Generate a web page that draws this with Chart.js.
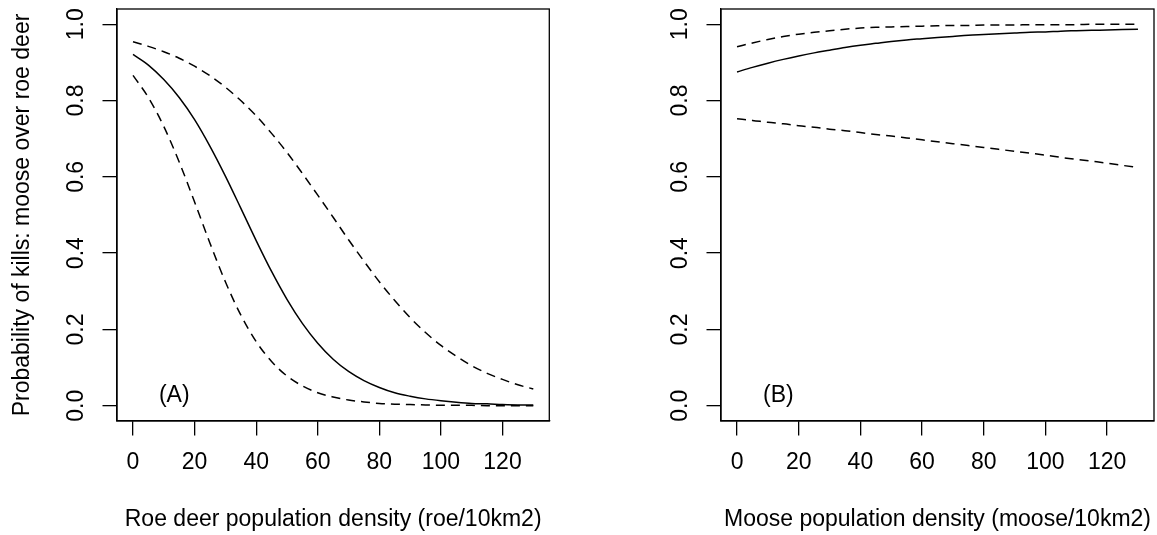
<!DOCTYPE html>
<html>
<head>
<meta charset="utf-8">
<script src="https://cdn.jsdelivr.net/npm/chart.js@4.4.1/dist/chart.umd.min.js"></script>
<style>
  html, body { margin: 0; padding: 0; background: #fff; }
  .panel { position: absolute; top: 0; height: 535px; }
  #wrapA { left: 0; width: 580px; }
  #wrapB { left: 604px; width: 553px; }
</style>
</head>
<body>
<div class="panel" id="wrapA"><canvas id="chartA" width="580" height="535"></canvas></div>
<div class="panel" id="wrapB"><canvas id="chartB" width="553" height="535"></canvas></div>
<script>
// densities (x) shared by both panels
const density = [0, 5, 10, 15, 20, 25, 30, 35, 40, 45, 50, 55, 60, 65, 70, 75, 80, 85, 90, 95, 100, 105, 110, 115, 120, 125, 130]

// panel A: roe deer density
const roeFit   = [0.921, 0.893, 0.855, 0.808, 0.750, 0.680, 0.602, 0.518, 0.433, 0.352, 0.279, 0.216, 0.164, 0.122, 0.090, 0.066, 0.048, 0.034, 0.025, 0.018, 0.013, 0.009, 0.006, 0.005, 0.003, 0.002, 0.002]
const roeUpper = [0.954, 0.942, 0.928, 0.911, 0.890, 0.865, 0.835, 0.800, 0.760, 0.714, 0.664, 0.609, 0.552, 0.494, 0.435, 0.379, 0.325, 0.276, 0.231, 0.192, 0.158, 0.130, 0.105, 0.085, 0.069, 0.055, 0.044]
const roeLower = [0.866, 0.808, 0.732, 0.639, 0.534, 0.426, 0.325, 0.238, 0.168, 0.116, 0.078, 0.052, 0.034, 0.023, 0.015, 0.010, 0.006, 0.004, 0.003, 0.002, 0.001, 0.001, 0.001, 0.000, 0.000, 0.000, 0.000]

// panel B: moose density
const mooseFit   = [0.875, 0.887, 0.898, 0.908, 0.917, 0.925, 0.932, 0.939, 0.945, 0.950, 0.955, 0.959, 0.962, 0.965, 0.968, 0.971, 0.973, 0.975, 0.977, 0.979, 0.980, 0.982, 0.983, 0.984, 0.985, 0.986, 0.987]
const mooseUpper = [0.941, 0.951, 0.960, 0.968, 0.974, 0.979, 0.983, 0.987, 0.990, 0.992, 0.993, 0.994, 0.995, 0.996, 0.997, 0.997, 0.998, 0.998, 0.998, 0.999, 0.999, 0.999, 0.999, 1.000, 1.000, 1.000, 1.000]
const mooseLower = [0.752, 0.748, 0.743, 0.739, 0.734, 0.730, 0.725, 0.721, 0.716, 0.711, 0.707, 0.702, 0.697, 0.692, 0.687, 0.682, 0.677, 0.672, 0.667, 0.662, 0.657, 0.651, 0.646, 0.641, 0.636, 0.630, 0.625]

const xTicks = [0, 20, 40, 60, 80, 100, 120]
const yTicks = [0, 0.2, 0.4, 0.6, 0.8, 1.0]

const FONT = "'Liberation Sans', Arial, Helvetica, sans-serif"
const FS = 23

function pairs(ys) {
    return density.map((x, i) => ({x: x, y: ys[i]}))
}

function lineSet(ys, dashed) {
    return {
        data: pairs(ys),
        borderColor: '#000',
        borderWidth: 1.5,
        borderDash: dashed ? [9, 6] : [],
        pointRadius: 0,
        fill: false,
        cubicInterpolationMode: 'monotone'
    }
}

// R style closed box + panel letter
const boxPlugin = {
    id: 'rbox',
    afterDraw(chart, args, opts) {
        const ctx = chart.ctx
        const a = chart.chartArea
        ctx.save()
        ctx.strokeStyle = '#000'
        ctx.lineWidth = 1.3
        ctx.strokeRect(a.left, a.top, a.right - a.left, a.bottom - a.top)
        ctx.fillStyle = '#000'
        ctx.font = FS + 'px ' + FONT
        ctx.textAlign = 'center'
        ctx.textBaseline = 'middle'
        ctx.fillText(opts.label, chart.scales.x.getPixelForValue(13.4), chart.scales.y.getPixelForValue(0.026))
        ctx.restore()
    }
}

function makeChart(id, sets, xTitle, yTitle, padRight, letter) {
    return new Chart(document.getElementById(id), {
        type: 'line',
        data: { datasets: sets },
        plugins: [boxPlugin],
        options: {
            responsive: false,
            animation: false,
            layout: { padding: { left: 0, top: 9, right: padRight, bottom: 0 } },
            plugins: {
                legend: { display: false },
                tooltip: { enabled: false },
                rbox: { label: letter }
            },
            scales: {
                x: {
                    type: 'linear',
                    min: -5.2,
                    max: 135.2,
                    afterBuildTicks: (s) => { s.ticks = xTicks.map(v => ({value: v})) },
                    afterFit: (s) => { s.height = 114; s.paddingLeft = 0; s.paddingRight = 0 },
                    ticks: {
                        color: '#000',
                        padding: 13.7,
                        maxRotation: 0,
                        autoSkip: false,
                        font: { family: FONT, size: FS },
                        callback: (v) => String(v)
                    },
                    grid: { drawOnChartArea: false, drawTicks: true, tickLength: 14.5, color: '#000', lineWidth: 1.3 },
                    border: { display: true, color: '#000', width: 1.3 },
                    title: {
                        display: true,
                        text: xTitle,
                        color: '#000',
                        font: { family: FONT, size: FS },
                        padding: { top: 0, bottom: 1.2 }
                    }
                },
                y: {
                    type: 'linear',
                    min: -0.04,
                    max: 1.04,
                    afterBuildTicks: (s) => { s.ticks = yTicks.map(v => ({value: v})) },
                    afterFit: (s) => { s.width = 117; s.paddingTop = 0; s.paddingBottom = 0 },
                    ticks: {
                        color: '#000',
                        padding: 10,
                        minRotation: 90,
                        maxRotation: 90,
                        crossAlign: 'center',
                        autoSkip: false,
                        font: { family: FONT, size: FS },
                        callback: (v) => v.toFixed(1)
                    },
                    grid: { drawOnChartArea: false, drawTicks: true, tickLength: 14.5, color: '#000', lineWidth: 1.3 },
                    border: { display: true, color: '#000', width: 1.3 },
                    title: {
                        display: yTitle !== '',
                        text: yTitle,
                        color: '#000',
                        font: { family: FONT, size: FS },
                        padding: { top: 8.8, bottom: 0 }
                    }
                }
            }
        }
    })
}

makeChart('chartA',
    [lineSet(roeFit, false), lineSet(roeUpper, true), lineSet(roeLower, true)],
    'Roe deer population density (roe/10km2)',
    'Probability of kills: moose over roe deer',
    30.7, '(A)')

makeChart('chartB',
    [lineSet(mooseFit, false), lineSet(mooseUpper, true), lineSet(mooseLower, true)],
    'Moose population density (moose/10km2)',
    '',
    3, '(B)')
</script>
</body>
</html>
